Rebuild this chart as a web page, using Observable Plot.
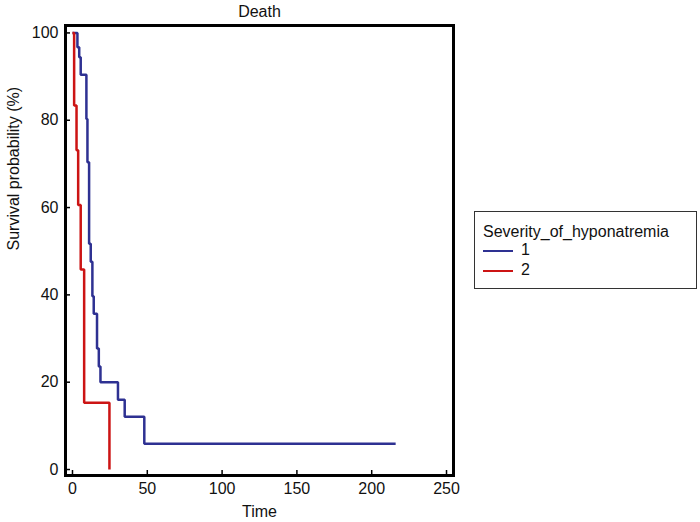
<!DOCTYPE html>
<html><head><meta charset="utf-8">
<script src="https://cdn.jsdelivr.net/npm/d3@7"></script>
<script src="https://cdn.jsdelivr.net/npm/@observablehq/plot@0.6"></script>
<style>
body{margin:0;background:#fff;font-family:Arial,"Liberation Sans",sans-serif;}
#wrap{position:relative;width:700px;height:522px;}
#legend{position:absolute;left:474px;top:211px;width:223px;height:78px;border:1.5px solid #333;box-sizing:border-box;font-size:16px;color:#111;}
#legend .ttl{position:absolute;left:8px;top:11px;line-height:18px;white-space:nowrap;}
#legend .row{position:absolute;left:8px;height:18px;line-height:18px;white-space:nowrap;}
#legend .sw{display:inline-block;width:30px;height:1.5px;vertical-align:middle;margin-right:8px;}
</style></head><body><div id="wrap"></div>
<script>
const chartTitle = "Death";
const legendTitle = "Severity_of_hyponatremia";
const groups = ["1", "2"];
const groupColors = ["#2e3192", "#cc1414"];
const group1Time = [0, 3.3, 4.5, 5.5, 9.3, 10.0, 11.1, 12.2, 13.3, 14.2, 16.4, 17.6, 18.7, 30.4, 34.9, 48.0, 216];
const group1Surv = [100, 96.7, 94.4, 90.4, 80.3, 70.4, 51.7, 47.6, 39.7, 35.7, 27.7, 23.6, 20.0, 16.0, 12.1, 5.9, 5.9];
const group2Time = [0, 1.1, 2.7, 3.8, 5.5, 7.8, 24.7];
const group2Surv = [100, 83.4, 73.1, 60.6, 45.8, 15.3, 0];
const xTicks = [0, 50, 100, 150, 200, 250];
const yTicks = [0, 20, 40, 60, 80, 100];

const data = [
  ...group1Time.map((t, i) => ({group: groups[0], time: t, surv: group1Surv[i]})),
  ...group2Time.map((t, i) => ({group: groups[1], time: t, surv: group2Surv[i]}))
];

const font = "Arial, 'Liberation Sans', sans-serif";
const chart = Plot.plot({
  width: 700, height: 522,
  marginLeft: 65, marginRight: 247, marginTop: 25, marginBottom: 47,
  style: {fontFamily: font, fontSize: "16px", color: "#111", background: "#fff"},
  x: {domain: [-4.67, 254.67], label: null},
  y: {domain: [-1.37, 101.7], label: null},
  color: {domain: groups, range: groupColors},
  marks: [
    Plot.axisX({ticks: xTicks, tickSize: -5, tickPadding: 12, strokeWidth: 1.5, stroke: "#000", fontSize: 16, label: null}),
    Plot.axisY({ticks: yTicks, tickSize: -5, tickPadding: 12, strokeWidth: 1.5, stroke: "#000", fontSize: 16, label: null}),
    Plot.line(data, {x: "time", y: "surv", z: "group", stroke: "group", curve: "step-after", strokeWidth: 2.5, strokeLinejoin: "miter", strokeLinecap: "butt"}),
    Plot.frame({stroke: "#000", strokeWidth: 3}),
    Plot.text([chartTitle], {frameAnchor: "top", lineAnchor: "middle", dy: -14, fontSize: 16, fill: "#111"}),
    Plot.text(["Time"], {frameAnchor: "bottom", lineAnchor: "middle", dy: 36, fontSize: 16, fill: "#111"}),
    Plot.text(["Survival probability (%)"], {frameAnchor: "left", dx: -52, rotate: -90, fontSize: 16, fill: "#111"})
  ]
});
const wrap = document.getElementById("wrap");
wrap.appendChild(chart);

const leg = document.createElement("div");
leg.id = "legend";
leg.innerHTML = `<div class="ttl">${legendTitle}</div>` +
  groups.map((g, i) => `<div class="row" style="top:${29 + i * 20}px"><span class="sw" style="background:${groupColors[i]}"></span>${g}</div>`).join("");
wrap.appendChild(leg);
</script></body></html>
